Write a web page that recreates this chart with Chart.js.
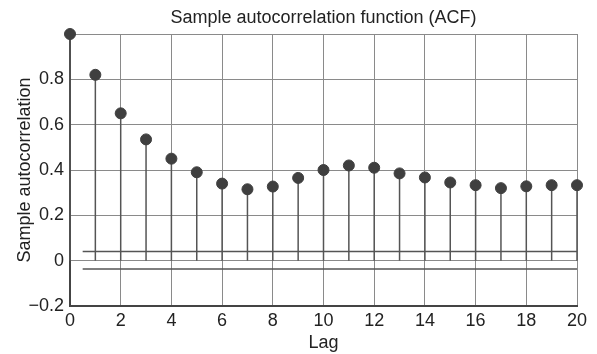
<!DOCTYPE html>
<html>
<head>
<meta charset="utf-8">
<script src="https://cdn.jsdelivr.net/npm/chart.js@4"></script>
<style>
  html, body { margin: 0; padding: 0; background: #fff; }
  #wrap { width: 597px; height: 354px; }
</style>
</head>
<body>
<div id="wrap"><canvas id="acfChart" width="597" height="354"></canvas></div>
<script>
// lags and sample autocorrelation values
const lags = [0, 1, 2, 3, 4, 5, 6, 7, 8, 9, 10, 11, 12, 13, 14, 15, 16, 17, 18, 19, 20];
const acfValues = [1.0, 0.82, 0.65, 0.535, 0.45, 0.39, 0.34, 0.315, 0.327, 0.365, 0.40,
                   0.42, 0.41, 0.385, 0.367, 0.345, 0.333, 0.32, 0.328, 0.333, 0.333];
// confidence bounds (upper / lower), drawn from lag 0.5 to lag 20
const boundLags = [0.5, 20];
const upperBound = [0.04, 0.04];
const lowerBound = [-0.037, -0.037];

const FONT = "'Liberation Sans', Arial, Helvetica, sans-serif";
const dark = '#3f3f3f';

// garis tangkai (stem) dari 0 ke nilai ACF
const stemPlugin = {
    id: 'stems',
    beforeDatasetsDraw(chart) {
        const ctx = chart.ctx;
        const x = chart.scales.x, y = chart.scales.y;
        ctx.save();
        ctx.strokeStyle = '#555';
        ctx.lineWidth = 1.5;
        lags.forEach((lag, i) => {
            const px = x.getPixelForValue(lag);
            ctx.beginPath();
            ctx.moveTo(px, y.getPixelForValue(0));
            ctx.lineTo(px, y.getPixelForValue(acfValues[i]));
            ctx.stroke();
        });
        ctx.restore();
    }
};

// judul di tengah area plot
const titlePlugin = {
    id: 'plotTitle',
    afterDraw(chart) {
        const ctx = chart.ctx;
        const a = chart.chartArea;
        ctx.save();
        ctx.fillStyle = '#222';
        ctx.font = '18px ' + FONT;
        ctx.textAlign = 'center';
        ctx.textBaseline = 'middle';
        ctx.fillText('Sample autocorrelation function (ACF)', (a.left + a.right) / 2, 18);
        ctx.restore();
    }
};

new Chart(document.getElementById('acfChart'), {
    type: 'scatter',
    data: {
        datasets: [
            {
                label: 'ACF',
                data: lags.map((l, i) => ({ x: l, y: acfValues[i] })),
                backgroundColor: dark,
                borderColor: dark,
                pointRadius: 5.5,
                pointHoverRadius: 5.5,
                clip: false
            },
            {
                label: 'upper',
                type: 'line',
                data: boundLags.map((l, i) => ({ x: l, y: upperBound[i] })),
                borderColor: '#555',
                borderWidth: 1.5,
                pointRadius: 0,
                fill: false
            },
            {
                label: 'lower',
                type: 'line',
                data: boundLags.map((l, i) => ({ x: l, y: lowerBound[i] })),
                borderColor: '#555',
                borderWidth: 1.5,
                pointRadius: 0,
                fill: false
            }
        ]
    },
    options: {
        responsive: false,
        animation: false,
        layout: { padding: { left: 0, right: 20, top: 34, bottom: 0 } },
        scales: {
            x: {
                type: 'linear',
                min: 0,
                max: 20,
                ticks: { stepSize: 2, color: '#222', font: { family: FONT, size: 18 }, padding: 4 },
                grid: { color: '#8a8a8a', lineWidth: 1, drawTicks: false },
                border: { color: '#444', width: 2 },
                title: { display: true, text: 'Lag', color: '#222', font: { family: FONT, size: 18 }, padding: 0 },
                afterFit(scale) { scale.height = 48; }
            },
            y: {
                min: -0.2,
                max: 1.0,
                ticks: {
                    stepSize: 0.2,
                    color: '#222',
                    font: { family: FONT, size: 18 },
                    padding: 6,
                    callback(v) {
                        const r = Math.round(v * 10) / 10;
                        if (r >= 1) return '';
                        if (r === 0) return '0';
                        return (r < 0 ? '\u2212' : '') + Math.abs(r).toFixed(1);
                    }
                },
                grid: { color: '#8a8a8a', lineWidth: 1, drawTicks: false },
                border: { color: '#444', width: 2 },
                title: { display: true, text: 'Sample autocorrelation', color: '#222', font: { family: FONT, size: 18 }, padding: { top: 14 } },
                afterFit(scale) { scale.width = 70; }
            }
        },
        plugins: {
            legend: { display: false },
            tooltip: { enabled: false },
            title: { display: false }
        }
    },
    plugins: [stemPlugin, titlePlugin]
});
</script>
</body>
</html>
